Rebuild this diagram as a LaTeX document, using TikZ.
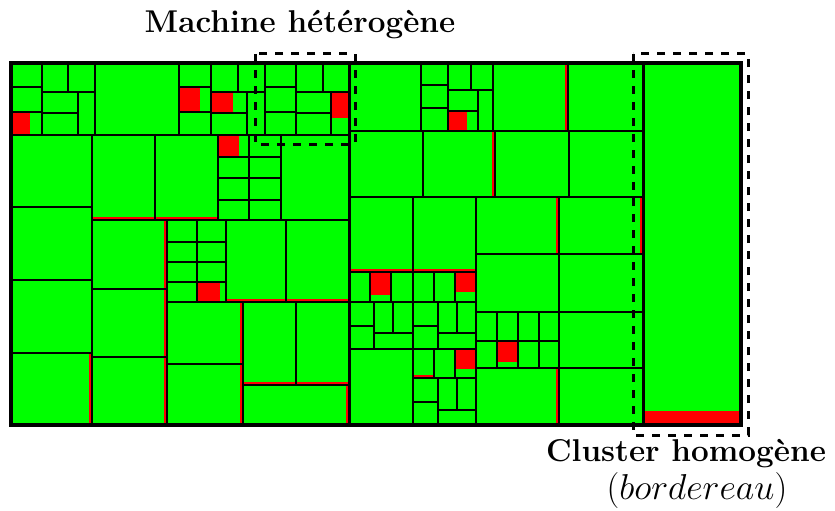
\RequirePackage{fix-cm}
\documentclass[tikz,border=0pt]{standalone}
\definecolor{cg}{RGB}{0,255,0}
\definecolor{cr}{RGB}{255,0,0}
\tikzset{
  cellline/.style={draw=black, line width=1.8pt},
  midline/.style={draw=black, line width=2.4pt},
  bigline/.style={draw=black, line width=3pt},
  frameline/.style={draw=black, line width=3.4pt},
  redpart/.style={fill=cr},
  dashbox/.style={draw=black, line width=3pt, dash pattern=on 8pt off 8pt},
  titlefont/.style={font=\fontsize{31.5}{37}\selectfont\bfseries},
  mathfont/.style={font=\fontsize{36}{40}\selectfont}
}
\newcommand\cellb[4]{\draw[cellline] (#1,#2) rectangle (#3,#4);}
\newcommand\redf[4]{\fill[redpart] (#1,#2) rectangle (#3,#4);}
\newcommand\redright[4]{\fill[redpart] ({#3-2.8},#2) rectangle (#3,#4);}
\newcommand\redbottom[4]{\fill[redpart] (#1,{#4-2.8}) rectangle (#3,#4);}
\begin{document}
\begin{tikzpicture}[x=1pt,y=-1pt]
\useasboundingbox (0,0) rectangle (835,511);
% green background
\fill[cg] (11,63) rectangle (741,425);
% red parts
\redf{11}{112}{30}{135}
\redf{179}{87}{200}{112}
\redf{211}{92}{233}{113}
\redf{331}{92}{349}{118}
\redf{218}{135}{239}{157}
\redf{198}{282}{220}{302}
\redf{448}{111}{467}{131}
\redf{370}{272}{391}{295}
\redf{455}{272}{476}{292}
\redf{455}{349}{476}{369}
\redf{497}{341}{518}{362}
\redf{643}{411}{741}{425}
% red slivers
\redright{11}{353}{92}{425}
\redbottom{92}{135}{155}{220}
\redbottom{155}{135}{218}{220}
\redright{92}{220}{167}{289}
\redright{92}{289}{167}{357}
\redright{92}{357}{167}{425}
\redbottom{226}{220}{286}{302}
\redbottom{286}{220}{349}{302}
\redright{167}{302}{243}{364}
\redright{167}{364}{243}{425}
\redbottom{243}{302}{296}{385}
\redbottom{296}{302}{349}{385}
\redright{243}{385}{349}{425}
\redright{493}{63}{568}{131}
\redright{423}{131}{495}{197}
\redbottom{349}{197}{413}{272}
\redbottom{413}{197}{476}{272}
\redbottom{413}{349}{434}{378}
\redright{476}{197}{559}{254}
\redright{476}{368}{559}{425}
\redright{559}{197}{643}{254}
% ---- left half, top row
\cellb{11}{63}{42}{87} \cellb{11}{87}{42}{112} \cellb{11}{112}{42}{135}
\cellb{42}{63}{68}{92} \cellb{68}{63}{95}{92}
\cellb{42}{92}{78}{113} \cellb{42}{113}{78}{135} \cellb{78}{92}{95}{135}
\cellb{95}{63}{179}{135}
\cellb{179}{63}{211}{87} \cellb{179}{87}{211}{112} \cellb{179}{112}{211}{135}
\cellb{211}{63}{238}{92} \cellb{238}{63}{265}{92}
\cellb{211}{92}{247}{113} \cellb{211}{113}{247}{135} \cellb{247}{92}{265}{135}
\cellb{265}{63}{296}{87} \cellb{265}{87}{296}{112} \cellb{265}{112}{296}{135}
\cellb{296}{63}{323}{92} \cellb{323}{63}{349}{92}
\cellb{296}{92}{331}{113} \cellb{296}{113}{331}{135} \cellb{331}{92}{349}{135}
% left column
\cellb{11}{135}{92}{207} \cellb{11}{207}{92}{280} \cellb{11}{280}{92}{353} \cellb{11}{353}{92}{425}
% band
\cellb{92}{135}{155}{220} \cellb{155}{135}{218}{220} \cellb{281}{135}{349}{220}
\foreach \xa/\xb in {218/249,249/281}{
  \foreach \ya/\yb in {135/157,157/178,178/200,200/220}{
    \draw[cellline] (\xa,\ya) rectangle (\xb,\yb);}}
% lower left
\cellb{92}{220}{167}{289} \cellb{92}{289}{167}{357} \cellb{92}{357}{167}{425}
\foreach \xa/\xb in {167/197,197/226}{
  \foreach \ya/\yb in {220/242,242/262,262/282,282/302}{
    \draw[cellline] (\xa,\ya) rectangle (\xb,\yb);}}
\cellb{226}{220}{286}{302} \cellb{286}{220}{349}{302}
\cellb{167}{302}{243}{364} \cellb{167}{364}{243}{425}
\cellb{243}{302}{296}{385} \cellb{296}{302}{349}{385}
\cellb{243}{385}{349}{425}
% ---- right half, top row
\cellb{349}{63}{421}{131}
\cellb{421}{63}{448}{85} \cellb{421}{85}{448}{108} \cellb{421}{108}{448}{131}
\cellb{448}{63}{471}{90} \cellb{471}{63}{493}{90}
\cellb{448}{90}{478}{111} \cellb{448}{111}{478}{131} \cellb{478}{90}{493}{131}
\cellb{493}{63}{568}{131} \cellb{568}{63}{643}{131}
% second row
\cellb{349}{131}{423}{197} \cellb{423}{131}{495}{197} \cellb{495}{131}{569}{197} \cellb{569}{131}{643}{197}
% lower right
\cellb{349}{197}{413}{272} \cellb{413}{197}{476}{272}
\cellb{349}{272}{370}{302} \cellb{370}{272}{391}{302} \cellb{391}{272}{413}{302}
\cellb{413}{272}{434}{302} \cellb{434}{272}{455}{302} \cellb{455}{272}{476}{302}
\cellb{349}{302}{374}{326} \cellb{349}{326}{374}{349} \cellb{374}{302}{393}{333} \cellb{393}{302}{413}{333} \cellb{374}{333}{413}{349}
\cellb{413}{302}{438}{326} \cellb{413}{326}{438}{349} \cellb{438}{302}{457}{333} \cellb{457}{302}{476}{333} \cellb{438}{333}{476}{349}
\cellb{349}{349}{413}{425}
\cellb{413}{349}{434}{378} \cellb{434}{349}{455}{378} \cellb{455}{349}{476}{378}
\cellb{413}{378}{438}{402} \cellb{413}{402}{438}{425} \cellb{438}{378}{457}{410} \cellb{457}{378}{476}{410} \cellb{438}{410}{476}{425}
\cellb{476}{197}{559}{254} \cellb{476}{254}{559}{312}
\foreach \xa/\xb in {476/497,497/518,518/539,539/559}{
  \foreach \ya/\yb in {312/341,341/368}{
    \draw[cellline] (\xa,\ya) rectangle (\xb,\yb);}}
\cellb{476}{368}{559}{425}
\cellb{559}{197}{643}{254} \cellb{559}{254}{643}{312} \cellb{559}{312}{643}{368} \cellb{559}{368}{643}{425}
% cluster
\cellb{643}{63}{741}{425}
% medium division lines
\draw[midline] (11,135) -- (349,135);
\draw[midline] (95,63) -- (95,135) (179,63) -- (179,135) (265,63) -- (265,135);
\draw[midline] (92,135) -- (92,425);
\draw[midline] (92,220) -- (349,220);
\draw[midline] (167,220) -- (167,425);
\draw[midline] (167,302) -- (349,302);
\draw[midline] (349,131) -- (643,131) (349,197) -- (643,197);
\draw[midline] (476,197) -- (476,425);
\draw[midline] (349,272) -- (476,272) (349,349) -- (476,349);
\draw[midline] (413,197) -- (413,425);
% big division lines
\draw[bigline] (349,63) -- (349,425);
\draw[bigline] (643,63) -- (643,425);
\draw[frameline] (11,63) rectangle (741,425);
% dashed boxes
\draw[dashbox] (255,54) rectangle (355,144);
\draw[dashbox] (633,54) rectangle (748,435);
% labels
\node[titlefont, anchor=base] (machine) at (300,33) {Machine hétérogène};
\node[titlefont, anchor=base] (cluster) at (686,461) {Cluster homogène};
\node[mathfont, anchor=base] (borde) at (697,499) {$(bordereau)$};
\end{tikzpicture}
\end{document}
